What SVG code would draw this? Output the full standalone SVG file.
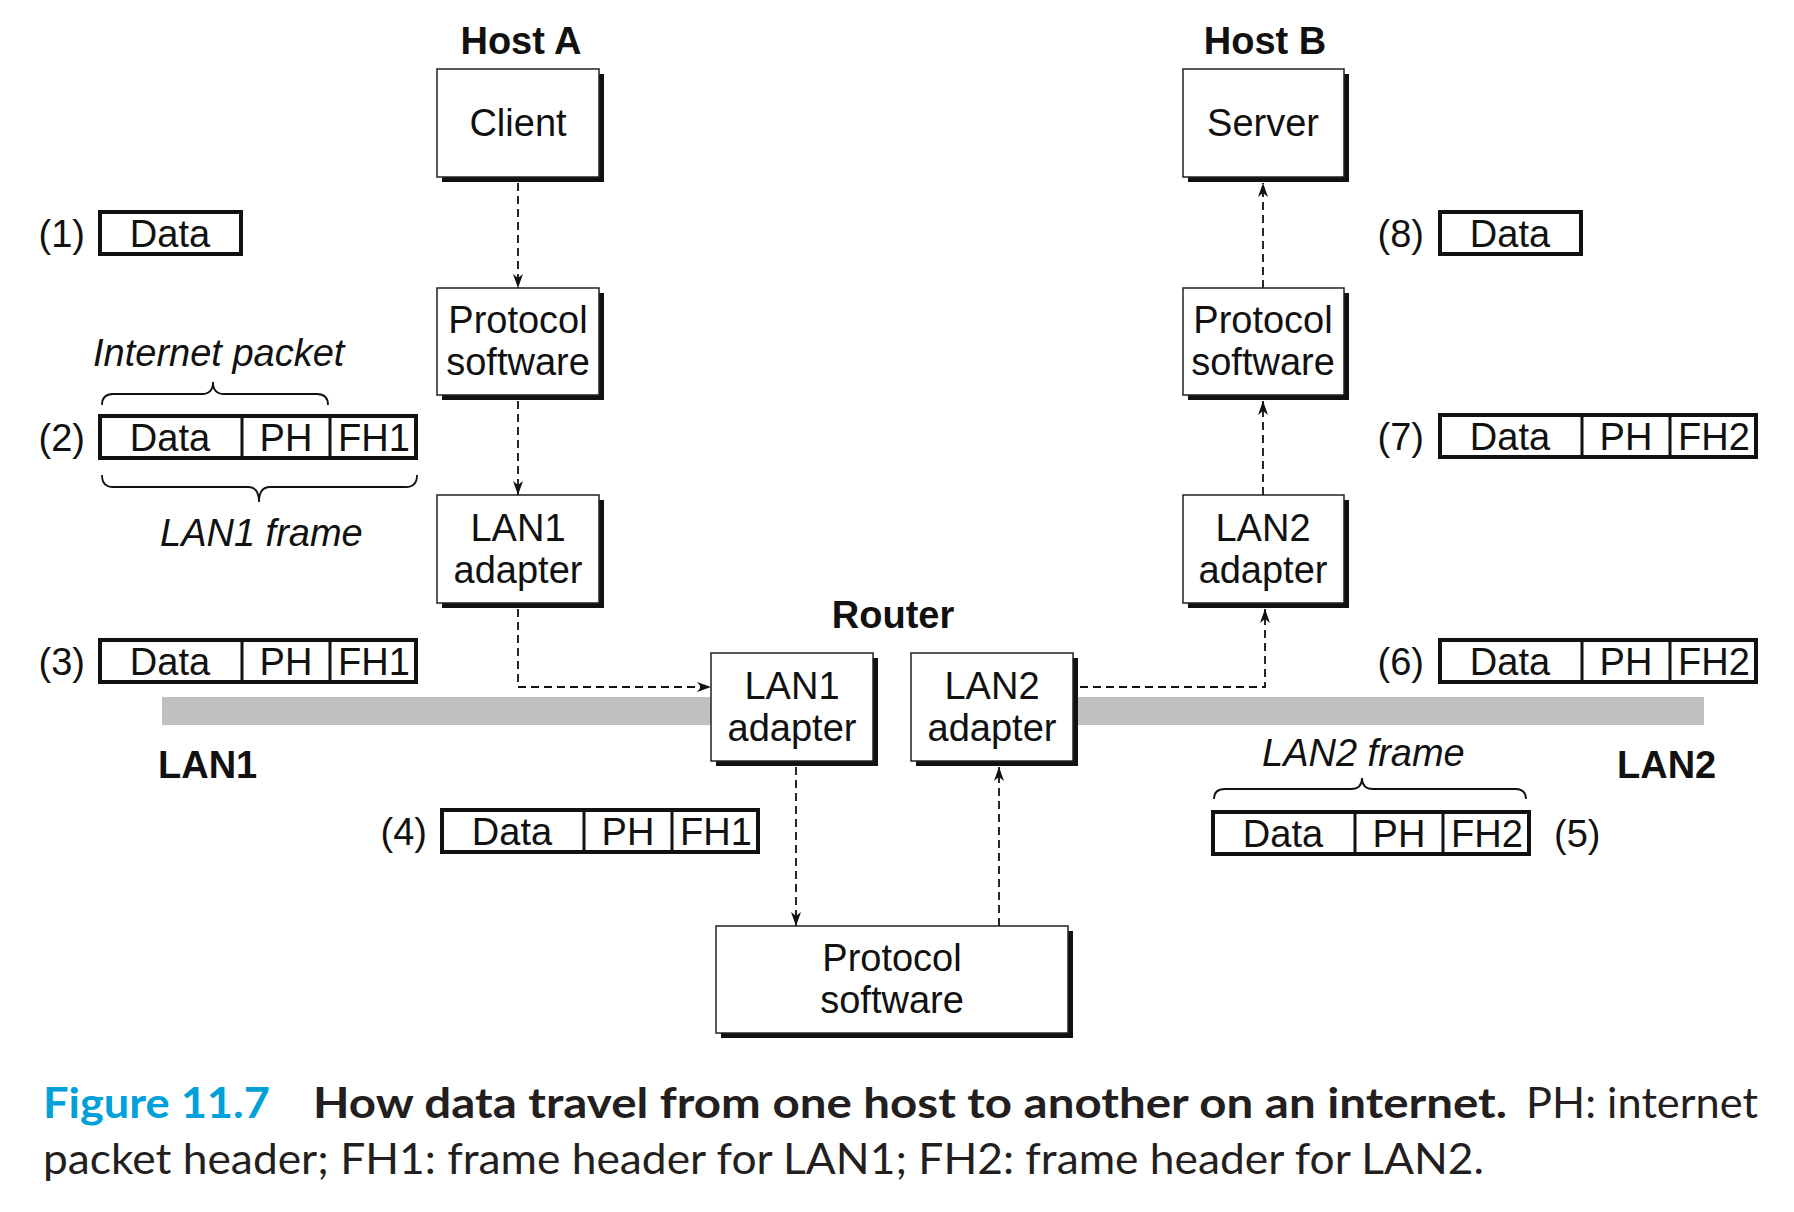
<svg xmlns="http://www.w3.org/2000/svg" width="1794" height="1212" viewBox="0 0 1794 1212">
<style>
.t{font-family:"Liberation Sans",Arial,sans-serif;font-size:38px;fill:#111}
.b{font-weight:bold}
.i{font-style:italic}
.m{text-anchor:middle}
.e{text-anchor:end}
.box{fill:#fff;stroke:#222;stroke-width:1.5}
.sh{fill:#111}
.pk{fill:#fff;stroke:#111;stroke-width:4}
.dv{stroke:#111;stroke-width:3}
.lan{fill:#c0c0c0}
.con{fill:none;stroke:#111;stroke-width:1.8;stroke-dasharray:8 5}
.br{fill:none;stroke:#111;stroke-width:1.8}
.cap{font-family:Lato,"Open Sans",sans-serif;font-size:42px;fill:#231f20}
</style>
<defs>
<marker id="ah" viewBox="0 0 14 10" refX="14" refY="5" markerWidth="14" markerHeight="10" orient="auto" markerUnits="userSpaceOnUse">
<path d="M0,0 L14,5 L0,10 L4,5 z" fill="#111"/>
</marker>
</defs>
<rect width="1794" height="1212" fill="#fff"/>

<!-- LAN bars -->
<g id="lans">
<rect class="lan" x="162" y="697" width="549" height="28"/>
<rect class="lan" x="1073" y="697" width="631" height="28"/>
<text class="t b" x="158" y="778">LAN1</text>
<text class="t b" x="1617" y="778">LAN2</text>
</g>

<!-- titles -->
<text class="t b m" x="521" y="54">Host A</text>
<text class="t b m" x="1265" y="54">Host B</text>
<text class="t b m" x="893" y="628">Router</text>

<!-- connectors -->
<g id="connectors">
<path class="con" d="M518,183 V288" marker-end="url(#ah)"/>
<path class="con" d="M518,401 V495" marker-end="url(#ah)"/>
<path class="con" d="M518,609 V687 H711" marker-end="url(#ah)"/>
<path class="con" d="M796,767 V926" marker-end="url(#ah)"/>
<path class="con" d="M999,926 V767" marker-end="url(#ah)"/>
<path class="con" d="M1080,687 H1265 V609" marker-end="url(#ah)"/>
<path class="con" d="M1263,495 V401" marker-end="url(#ah)"/>
<path class="con" d="M1263,288 V183" marker-end="url(#ah)"/>
</g>

<!-- nodes -->
<g id="client">
<rect class="sh" x="442" y="74" width="162" height="108"/>
<rect class="box" x="437" y="69" width="162" height="108"/>
<text class="t m" x="518" y="136">Client</text>
</g>
<g id="protoA">
<rect class="sh" x="442" y="293" width="162" height="107"/>
<rect class="box" x="437" y="288" width="162" height="107"/>
<text class="t m" x="518" y="333">Protocol</text>
<text class="t m" x="518" y="375">software</text>
</g>
<g id="lan1A">
<rect class="sh" x="442" y="500" width="162" height="108"/>
<rect class="box" x="437" y="495" width="162" height="108"/>
<text class="t m" x="518" y="541">LAN1</text>
<text class="t m" x="518" y="583">adapter</text>
</g>
<g id="server">
<rect class="sh" x="1188" y="74" width="161" height="108"/>
<rect class="box" x="1183" y="69" width="161" height="108"/>
<text class="t m" x="1263" y="136">Server</text>
</g>
<g id="protoB">
<rect class="sh" x="1188" y="293" width="161" height="107"/>
<rect class="box" x="1183" y="288" width="161" height="107"/>
<text class="t m" x="1263" y="333">Protocol</text>
<text class="t m" x="1263" y="375">software</text>
</g>
<g id="lan2B">
<rect class="sh" x="1188" y="500" width="161" height="108"/>
<rect class="box" x="1183" y="495" width="161" height="108"/>
<text class="t m" x="1263" y="541">LAN2</text>
<text class="t m" x="1263" y="583">adapter</text>
</g>
<g id="rlan1">
<rect class="sh" x="716" y="658" width="162" height="108"/>
<rect class="box" x="711" y="653" width="162" height="108"/>
<text class="t m" x="792" y="699">LAN1</text>
<text class="t m" x="792" y="741">adapter</text>
</g>
<g id="rlan2">
<rect class="sh" x="916" y="658" width="162" height="108"/>
<rect class="box" x="911" y="653" width="162" height="108"/>
<text class="t m" x="992" y="699">LAN2</text>
<text class="t m" x="992" y="741">adapter</text>
</g>
<g id="rproto">
<rect class="sh" x="721" y="931" width="352" height="107"/>
<rect class="box" x="716" y="926" width="352" height="107"/>
<text class="t m" x="892" y="971">Protocol</text>
<text class="t m" x="892" y="1013">software</text>
</g>

<!-- packets -->
<g id="p1">
<text class="t e" x="85" y="247">(1)</text>
<rect class="pk" x="100" y="212" width="141" height="42"/>
<text class="t m" x="170" y="247">Data</text>
</g>
<g id="p2">
<text class="t i" x="93" y="366">Internet packet</text>
<path class="br" d="M102,405 Q102,394 113,394 L202,394 Q213,394 213,382 Q213,394 224,394 L317,394 Q328,394 328,405"/>
<text class="t e" x="85" y="451">(2)</text>
<rect class="pk" x="100" y="416" width="316" height="42"/>
<line class="dv" x1="242" y1="416" x2="242" y2="458"/>
<line class="dv" x1="330" y1="416" x2="330" y2="458"/>
<text class="t m" x="170" y="451">Data</text>
<text class="t m" x="286" y="451">PH</text>
<text class="t m" x="374" y="451">FH1</text>
<path class="br" d="M102,475 Q102,487 113,487 L248,487 Q259,487 259,502 Q259,487 270,487 L406,487 Q417,487 417,475"/>
<text class="t i" x="160" y="546">LAN1 frame</text>
</g>
<g id="p3">
<text class="t e" x="85" y="675">(3)</text>
<rect class="pk" x="100" y="640" width="316" height="42"/>
<line class="dv" x1="242" y1="640" x2="242" y2="682"/>
<line class="dv" x1="330" y1="640" x2="330" y2="682"/>
<text class="t m" x="170" y="675">Data</text>
<text class="t m" x="286" y="675">PH</text>
<text class="t m" x="374" y="675">FH1</text>
</g>
<g id="p4">
<text class="t e" x="427" y="845">(4)</text>
<rect class="pk" x="442" y="810" width="316" height="42"/>
<line class="dv" x1="584" y1="810" x2="584" y2="852"/>
<line class="dv" x1="672" y1="810" x2="672" y2="852"/>
<text class="t m" x="512" y="845">Data</text>
<text class="t m" x="628" y="845">PH</text>
<text class="t m" x="716" y="845">FH1</text>
</g>
<g id="p5">
<text class="t i" x="1262" y="766">LAN2 frame</text>
<path class="br" d="M1214,799 Q1214,789 1225,789 L1351,789 Q1362,789 1362,778 Q1362,789 1373,789 L1515,789 Q1526,789 1526,799"/>
<rect class="pk" x="1213" y="812" width="316" height="42"/>
<line class="dv" x1="1355" y1="812" x2="1355" y2="854"/>
<line class="dv" x1="1443" y1="812" x2="1443" y2="854"/>
<text class="t m" x="1283" y="847">Data</text>
<text class="t m" x="1399" y="847">PH</text>
<text class="t m" x="1487" y="847">FH2</text>
<text class="t" x="1554" y="847">(5)</text>
</g>
<g id="p6">
<text class="t e" x="1424" y="675">(6)</text>
<rect class="pk" x="1440" y="640" width="316" height="42"/>
<line class="dv" x1="1582" y1="640" x2="1582" y2="682"/>
<line class="dv" x1="1670" y1="640" x2="1670" y2="682"/>
<text class="t m" x="1510" y="675">Data</text>
<text class="t m" x="1626" y="675">PH</text>
<text class="t m" x="1714" y="675">FH2</text>
</g>
<g id="p7">
<text class="t e" x="1424" y="450">(7)</text>
<rect class="pk" x="1440" y="415" width="316" height="42"/>
<line class="dv" x1="1582" y1="415" x2="1582" y2="457"/>
<line class="dv" x1="1670" y1="415" x2="1670" y2="457"/>
<text class="t m" x="1510" y="450">Data</text>
<text class="t m" x="1626" y="450">PH</text>
<text class="t m" x="1714" y="450">FH2</text>
</g>
<g id="p8">
<text class="t e" x="1424" y="247">(8)</text>
<rect class="pk" x="1440" y="212" width="141" height="42"/>
<text class="t m" x="1510" y="247">Data</text>
</g>

<!-- caption -->
<g id="caption">
<text class="cap" x="43" y="1118" font-weight="bold" style="fill:#00a0d8" textLength="227" lengthAdjust="spacingAndGlyphs">Figure 11.7</text>
<text class="cap" x="313" y="1118" font-weight="bold" textLength="1194" lengthAdjust="spacingAndGlyphs">How data travel from one host to another on an internet.</text>
<text class="cap" x="1526" y="1118" textLength="232" lengthAdjust="spacingAndGlyphs">PH: internet</text>
<text class="cap" x="43" y="1174" textLength="1441" lengthAdjust="spacingAndGlyphs">packet header; FH1: frame header for LAN1; FH2: frame header for LAN2.</text>
</g>
</svg>
